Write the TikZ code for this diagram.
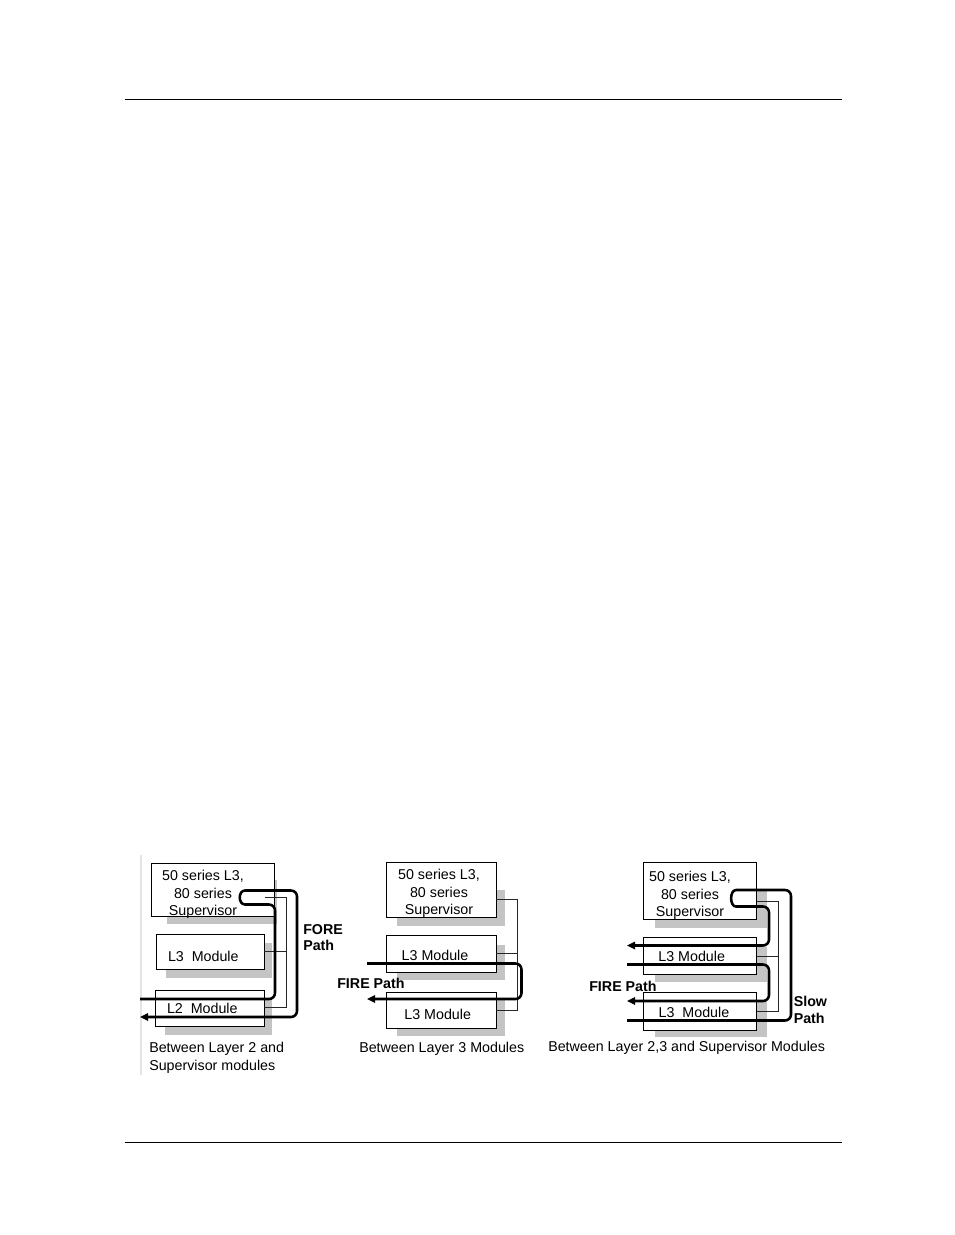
\documentclass[tikz,border=0pt]{standalone}
\usepackage{fontspec}
\setmainfont{Liberation Sans}
\usetikzlibrary{fit,arrows.meta}
\definecolor{shade}{RGB}{196,196,196}
\definecolor{rulegray}{RGB}{228,228,228}
\begin{document}
\begin{tikzpicture}[x=0.75pt,y=-0.75pt,
  box/.style={draw, line width=0.75pt, fill=white, inner sep=0pt, outer sep=0pt},
  shadowbox/.style={fill=shade},
  conn/.style={line width=0.75pt, black!85},
  flow/.style={line width=1.9pt, rounded corners=4.5pt},
  flowarrow/.style={flow, -{Triangle[length=6pt,width=5.5pt]}},
  txt/.style={font=\fontsize{10.7}{13.1}\selectfont, inner sep=0pt, align=center},
  captext/.style={font=\fontsize{10.7}{13.5}\selectfont, inner sep=0pt, align=left},
  lbl/.style={font=\fontsize{10.7}{11.6}\selectfont\bfseries, inner sep=0pt, align=left},
  pagerule/.style={line width=0.75pt}]
\useasboundingbox (0,0) rectangle (954,1235);

% page rules
\draw[pagerule] (124.5,99.5) -- (842,99.5);
\draw[pagerule] (124.5,1142.5) -- (842,1142.5);
\draw[rulegray, line width=1.5pt] (140.5,855) -- (140.5,1075);

% ---------------- Panel 1 ----------------
\fill[shadowbox] (167,880) rectangle (277,924);
\fill[shadowbox] (166,943) rectangle (272,978);
\fill[shadowbox] (165,999) rectangle (272,1035);
\node[box, fit={(151,863) (274,916)}] (sup1) {};
\node[box, fit={(156,934) (264,969)}] (mod1a) {};
\node[box, fit={(155,990) (264,1026)}] (mod1b) {};
\coordinate (bus1t) at (286.5,897);
\coordinate (bus1b) at (286.5,1007);
\draw[conn] (265,897) -- (bus1t) -- (bus1b) -- (mod1b.east |- bus1b);
\draw[conn] (mod1a.east) -- (mod1a.east -| bus1t);
\node[txt] (sup1t) at (203,894.5) {50 series L3,\\80 series\\Supervisor};
\node[txt, anchor=base] (mod1at) at (203.3,961) {L3~~Module};
\node[txt, anchor=base] (mod1bt) at (202.3,1013.3) {L2~~Module};
\node[lbl, anchor=west] (fore) at (303,937.5) {FORE\\Path};
\node[captext, anchor=west] (cap1) at (149,1057.4) {Between Layer 2 and\\Supervisor modules};
\coordinate (in1) at (140,999);
\coordinate (out1) at (140,1017);
\draw[flowarrow] (in1) -- (275,999) -- (275,904.5) -- (251,904.5)
  .. controls (238,904.5) and (238,890.5) .. (251,890.5)
  -- (297,890.5) -- (297,1017) -- (out1);

% ---------------- Panel 2 ----------------
\fill[shadowbox] (397,890) rectangle (505,926);
\fill[shadowbox] (397,945) rectangle (505,980);
\fill[shadowbox] (397,1000) rectangle (505,1036);
\node[box, fit={(386,862) (496,917)}] (sup2) {};
\node[box, fit={(386,935) (496,972)}] (mod2a) {};
\node[box, fit={(386,992) (496,1028)}] (mod2b) {};
\coordinate (bus2t) at (517,899);
\coordinate (bus2b) at (517,1010);
\draw[conn] (sup2.east |- bus2t) -- (bus2t) -- (bus2b) -- (mod2b.east |- bus2b);
\draw[conn] (mod2a.east |- 0,953.5) -- (517,953.5);
\node[txt] (sup2t) at (439,893.5) {50 series L3,\\80 series\\Supervisor};
\node[txt, anchor=base] (mod2at) at (435,960) {L3 Module};
\node[txt, anchor=base] (mod2bt) at (437.7,1019) {L3 Module};
\node[lbl, anchor=base west] (fire2) at (337,988) {FIRE Path};
\node[captext, anchor=base west] (cap2) at (359,1052) {Between Layer 3 Modules};
\coordinate (in2) at (367,963.5);
\coordinate (out2) at (367,999);
\draw[flowarrow] (in2) -- (521.5,963.5) -- (521.5,999) -- (out2);

% ---------------- Panel 3 ----------------
\fill[shadowbox] (655,890) rectangle (767,928);
\fill[shadowbox] (655,947) rectangle (767,982);
\fill[shadowbox] (655,1002) rectangle (767,1037);
\node[box, fit={(643.5,862) (756.5,919)}] (sup3) {};
\node[box, fit={(643.5,937.5) (756.5,974)}] (mod3a) {};
\node[box, fit={(643.5,992.5) (756.5,1030)}] (mod3b) {};
\coordinate (bus3t) at (778.5,901);
\coordinate (bus3b) at (778.5,1011.5);
\draw[conn] (sup3.east |- bus3t) -- (bus3t) -- (bus3b) -- (mod3b.east |- bus3b);
\draw[conn] (mod3a.east |- 0,956) -- (778.5,956);
\node[txt] (sup3t) at (690,895.5) {50 series L3,\\80 series\\Supervisor};
\node[txt, anchor=base] (mod3at) at (691.7,961) {L3 Module};
\node[txt, anchor=base] (mod3bt) at (694,1017.3) {L3~~Module};
\node[lbl, anchor=base west] (fire3) at (589,991) {FIRE Path};
\node[font=\fontsize{10.7}{12.75}\selectfont\bfseries, inner sep=0pt, align=left, anchor=west] (slow) at (793.5,1009.5) {Slow\\Path};
\node[captext, anchor=base west] (cap3) at (548,1051) {Between Layer 2,3 and Supervisor Modules};
\coordinate (in3s) at (627,1020.5);
\coordinate (out3s) at (627,945.5);
\coordinate (in3f) at (627,964.5);
\coordinate (out3f) at (627,1001);
\draw[flowarrow] (in3s) -- (791,1020.5) -- (791,890) -- (742,890)
  .. controls (729.5,890) and (729.5,906.5) .. (742,906.5)
  -- (769,906.5) -- (769,945.5) -- (out3s);
\draw[flowarrow] (in3f) -- (769,964.5) -- (769,1001) -- (out3f);
\end{tikzpicture}
\end{document}
